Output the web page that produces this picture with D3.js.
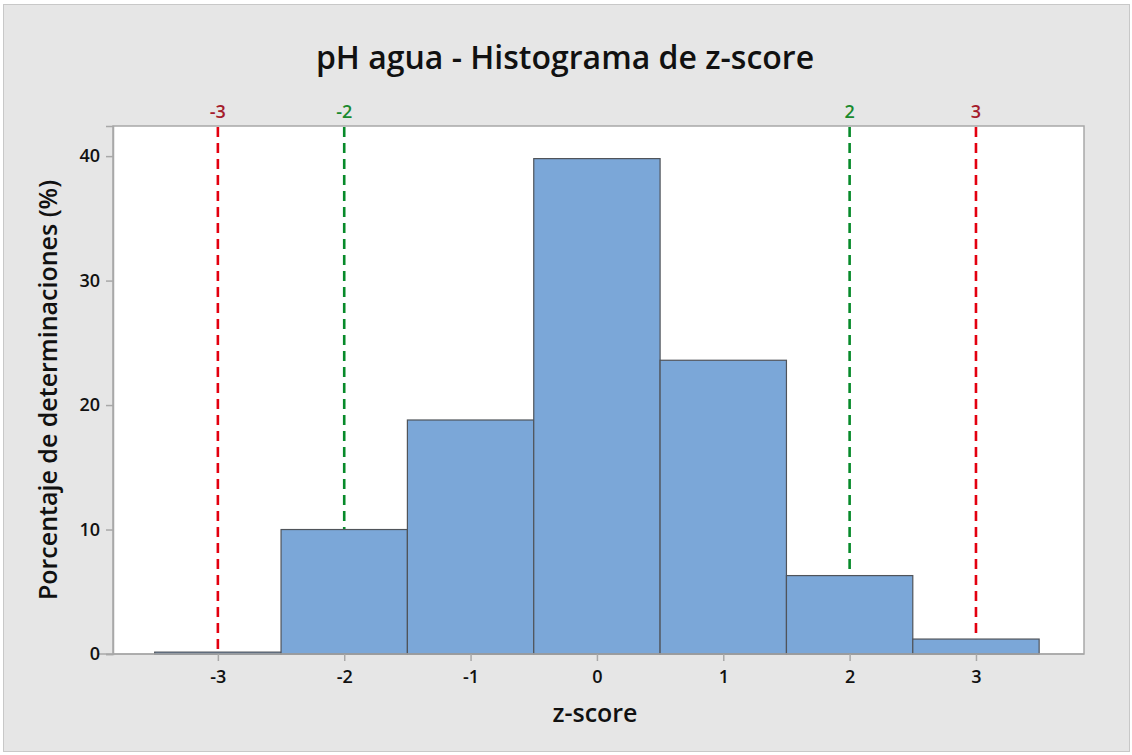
<!DOCTYPE html>
<html>
<head>
<meta charset="utf-8">
<script src="https://cdn.jsdelivr.net/npm/d3@7"></script>
<style>
  body { margin: 0; background: #fff; }
  text { font-family: "Open Sans", "Noto Sans", sans-serif; }
</style>
</head>
<body>
<script>
  // bin centers (z-score) and percentage of determinations
  const binCenters = [-3, -2, -1, 0, 1, 2, 3];
  const percents = [0.15, 10.0, 18.8, 39.8, 23.6, 6.3, 1.2];
  const xTicks = [-3, -2, -1, 0, 1, 2, 3];
  const yTicks = [0, 10, 20, 30, 40];
  const refLines = [-3, -2, 2, 3];
  const refKinds = ["red", "green", "green", "red"];

  const W = 1132, H = 755;
  const pLeft = 113, pRight = 1084, pTop = 126, pBottom = 654;

  const svg = d3.select("body").append("svg")
    .attr("width", W).attr("height", H);

  svg.append("rect")
    .attr("x", 3.5).attr("y", 4.5)
    .attr("width", W - 6).attr("height", H - 8)
    .attr("fill", "#e6e6e6")
    .attr("stroke", "#c8c8c8");

  const x = d3.scaleLinear().domain([-3.83, 3.855]).range([pLeft, pRight]);
  const y = d3.scaleLinear().domain([0, 42.42]).range([pBottom, pTop]);

  svg.append("rect")
    .attr("x", pLeft).attr("y", pTop)
    .attr("width", pRight - pLeft).attr("height", pBottom - pTop)
    .attr("fill", "#fff")
    .attr("stroke", "#a8a8a8")
    .attr("stroke-width", 1.5);

  // reference lines (drawn behind the bars)
  const refColor = { red: "#e3000f", green: "#078a2a" };
  const refText = { red: "#a51c2c", green: "#1a8a2e" };
  svg.selectAll("line.ref")
    .data(refLines)
    .enter()
    .append("line")
    .attr("class", "ref")
    .attr("x1", d => x(d)).attr("x2", d => x(d))
    .attr("y1", pTop + 1).attr("y2", pBottom)
    .attr("stroke", (d, i) => refColor[refKinds[i]])
    .attr("stroke-width", 2.6)
    .attr("stroke-dasharray", "10,6");

  // bars
  svg.selectAll("rect.bar")
    .data(binCenters)
    .enter()
    .append("rect")
    .attr("class", "bar")
    .attr("x", d => x(d - 0.5))
    .attr("y", (d, i) => y(percents[i]))
    .attr("width", d => x(d + 0.5) - x(d - 0.5))
    .attr("height", (d, i) => pBottom - y(percents[i]))
    .attr("fill", "#7ba7d8")
    .attr("stroke", "#50545a")
    .attr("stroke-width", 1.2);

  svg.selectAll("text.ref")
    .data(refLines)
    .enter()
    .append("text")
    .attr("class", "ref")
    .attr("x", d => x(d))
    .attr("y", pTop - 8)
    .attr("text-anchor", "middle")
    .attr("font-size", 18)
    .attr("font-weight", 600)
    .attr("fill", (d, i) => refText[refKinds[i]])
    .text(d => d < 0 ? "-" + Math.abs(d) : d);

  // axes
  const xAxis = svg.append("g")
    .attr("transform", `translate(0,${pBottom})`)
    .call(d3.axisBottom(x).tickValues(xTicks).tickSize(7).tickPadding(9)
      .tickFormat(d => d < 0 ? "-" + Math.abs(d) : d));
  xAxis.select(".domain").attr("stroke", "#a8a8a8").attr("stroke-width", 1.5)
    .attr("d", `M${pLeft - 15},0H${pRight}`);

  const yAxis = svg.append("g")
    .attr("transform", `translate(${pLeft},0)`)
    .call(d3.axisLeft(y).tickValues(yTicks).tickSize(7).tickPadding(6));
  yAxis.select(".domain").attr("stroke", "#a8a8a8").attr("stroke-width", 1.5);

  svg.selectAll(".tick line").attr("stroke", "#a8a8a8").attr("stroke-width", 1.5);
  svg.selectAll(".tick text")
    .attr("font-family", "'Open Sans', 'Noto Sans', sans-serif")
    .attr("font-size", 18)
    .attr("font-weight", 600)
    .attr("fill", "#111");

  // titles
  svg.append("text")
    .attr("x", 565).attr("y", 69)
    .attr("text-anchor", "middle")
    .attr("font-size", 32)
    .attr("font-weight", 600)
    .attr("fill", "#111")
    .text("pH agua - Histograma de z-score");

  svg.append("text")
    .attr("x", 595).attr("y", 722)
    .attr("text-anchor", "middle")
    .attr("font-size", 25)
    .attr("font-weight", 600)
    .attr("fill", "#111")
    .text("z-score");

  svg.append("text")
    .attr("transform", `translate(57,390) rotate(-90)`)
    .attr("text-anchor", "middle")
    .attr("font-size", 25)
    .attr("font-weight", 600)
    .attr("fill", "#111")
    .text("Porcentaje de determinaciones (%)");
</script>
</body>
</html>
